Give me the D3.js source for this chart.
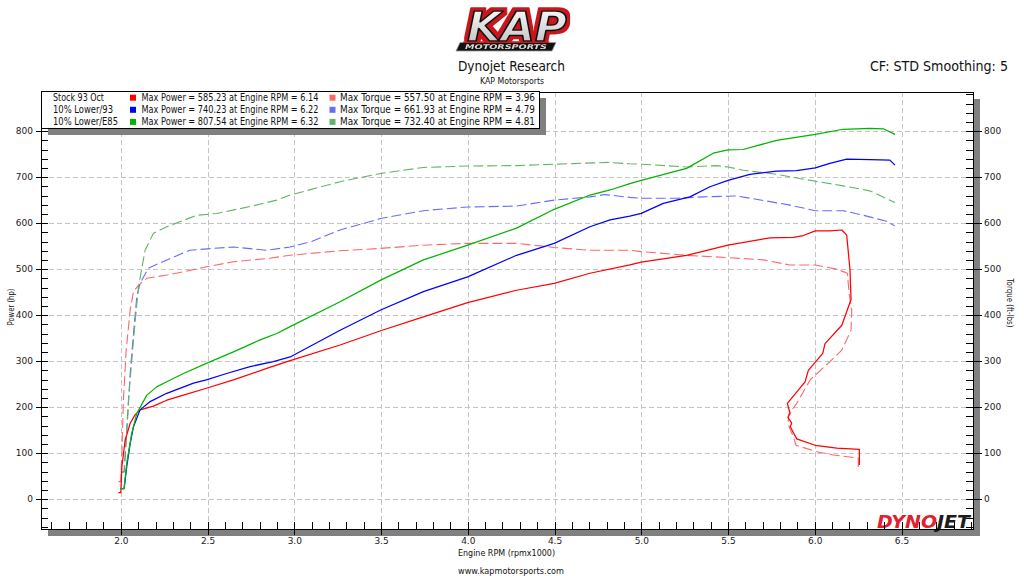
<!DOCTYPE html>
<meta charset="utf-8">
<head>
<style>
    body { margin: 0; background: #fff; }
    svg { display: block; font-family: "DejaVu Sans", sans-serif; }
    .grid line { stroke: #c4c4c4; stroke-dasharray: 5,3; shape-rendering: crispEdges; }
    .axis path { display: none; }
    .axis line { stroke: #000; shape-rendering: crispEdges; }
    .axis text { font-size: 9px; fill: #1a1a1a; font-family: "DejaVu Sans", sans-serif; }
    .lbl { fill: #111; }
</style>
</head>
<body>
<svg width="1024" height="576"></svg>
<script src="https://d3js.org/d3.v7.min.js"></script>
<script>

// ---- data (rpm x1000, hp / ft-lbs) ----
var runNames = ["Stock 93 Oct", "10% Lower/93", "10% Lower/E85"];
var maxPower = [585.23, 740.23, 807.54];
var maxPowerRpm = [6.14, 6.22, 6.32];
var maxTorque = [557.50, 661.93, 732.40];
var maxTorqueRpm = [3.96, 4.79, 4.81];

var stockPowerRpm = [1.986, 2.000, 2.006, 2.025, 2.054, 2.082, 2.111, 2.188, 2.265, 2.361, 2.493, 2.649, 2.841, 2.976, 3.264, 3.498, 3.744, 3.999, 4.281, 4.498, 4.704, 4.934, 5.000, 5.261, 5.500, 5.742, 5.877, 5.934, 6.003, 6.087, 6.156, 6.184, 6.203, 6.209, 6.156, 6.059, 6.046, 5.963, 5.944, 5.842, 5.858, 5.845, 5.867, 5.858, 5.896, 6.002, 6.127, 6.257, 6.257];
var stockPower = [14, 14, 70, 128, 165, 183, 194, 202, 215, 226, 241, 259, 284, 301, 335, 366, 396, 427, 454, 469, 491, 509, 515, 530, 552, 568, 569, 573, 583, 583, 585, 574, 498, 434, 378, 338, 317, 280, 255, 208, 186, 178, 165, 158, 131, 117, 111, 108, 74];

var lower93PowerRpm = [2.000, 2.019, 2.034, 2.054, 2.073, 2.111, 2.169, 2.265, 2.419, 2.493, 2.610, 2.745, 2.879, 2.976, 3.264, 3.498, 3.744, 3.999, 4.281, 4.498, 4.704, 4.820, 4.934, 5.000, 5.127, 5.280, 5.396, 5.500, 5.626, 5.780, 5.895, 6.003, 6.087, 6.184, 6.318, 6.433, 6.462];
var lower93Power = [23, 23, 70, 121, 157, 194, 212, 230, 252, 259, 273, 288, 299, 309, 367, 411, 451, 483, 530, 556, 592, 607, 615, 621, 643, 657, 679, 693, 706, 713, 714, 720, 730, 739, 738, 737, 726];

var e85PowerRpm = [2.000, 2.019, 2.034, 2.063, 2.092, 2.150, 2.207, 2.265, 2.361, 2.493, 2.649, 2.803, 2.899, 2.976, 3.264, 3.498, 3.744, 3.999, 4.281, 4.498, 4.704, 4.820, 4.934, 5.000, 5.261, 5.415, 5.500, 5.587, 5.780, 6.003, 6.164, 6.318, 6.395, 6.462];
var e85Power = [23, 23, 78, 143, 186, 226, 244, 255, 273, 295, 320, 346, 360, 375, 429, 476, 520, 552, 589, 630, 661, 672, 686, 693, 719, 752, 759, 760, 780, 793, 804, 806, 805, 793];

var stockTorqueRpm = [1.986, 2.000, 2.006, 2.015, 2.031, 2.054, 2.073, 2.102, 2.150, 2.265, 2.361, 2.493, 2.649, 2.841, 2.976, 3.264, 3.498, 3.744, 3.999, 4.281, 4.498, 4.704, 4.934, 5.000, 5.261, 5.500, 5.702, 5.857, 6.003, 6.126, 6.188, 6.198, 6.213, 6.209, 6.156, 6.088, 5.973, 5.896, 5.848, 5.848, 5.877, 5.892, 6.011, 6.107, 6.251, 6.251];
var stockTorque = [38, 38, 99, 215, 324, 411, 451, 465, 480, 487, 494, 505, 516, 523, 530, 540, 545, 552, 556, 556, 547, 541, 541, 538, 530, 525, 520, 509, 509, 500, 491, 447, 411, 367, 324, 299, 259, 208, 183, 161, 135, 117, 103, 96, 89, 70];

var lower93TorqueRpm = [2.000, 2.019, 2.034, 2.054, 2.073, 2.092, 2.111, 2.159, 2.265, 2.399, 2.534, 2.649, 2.841, 2.976, 3.100, 3.264, 3.498, 3.744, 3.999, 4.281, 4.498, 4.704, 4.790, 4.934, 5.000, 5.204, 5.357, 5.549, 5.722, 5.857, 6.003, 6.164, 6.280, 6.414, 6.462];
var lower93Torque = [59, 59, 143, 273, 360, 440, 469, 502, 520, 541, 545, 548, 541, 548, 560, 585, 610, 627, 635, 637, 650, 657, 662, 656, 654, 654, 657, 659, 648, 639, 627, 627, 617, 604, 594];

var e85TorqueRpm = [2.000, 2.019, 2.044, 2.073, 2.102, 2.140, 2.188, 2.265, 2.438, 2.553, 2.745, 2.899, 2.976, 3.264, 3.498, 3.744, 3.999, 4.281, 4.498, 4.810, 4.934, 5.000, 5.261, 5.434, 5.500, 5.587, 5.780, 6.003, 6.164, 6.318, 6.462];
var e85Torque = [59, 59, 215, 346, 462, 541, 578, 592, 617, 621, 636, 650, 661, 690, 708, 721, 724, 725, 728, 732, 729, 728, 722, 725, 722, 715, 706, 691, 681, 670, 645];

var xMajor = [2.0, 2.5, 3.0, 3.5, 4.0, 4.5, 5.0, 5.5, 6.0, 6.5];
var yMajor = [0, 100, 200, 300, 400, 500, 600, 700, 800];

var powerColors = ["#ff0000", "#0000ff", "#00b400"];
var torqueColors = ["#ff6868", "#6a6aff", "#62b462"];

// ---- layout ----
var svg = d3.select("svg");
var plot = { l: 41, r: 973, t: 92, b: 529 };
var x = d3.scaleLinear().domain([1.54, 6.912]).range([plot.l, plot.r]);
var y = d3.scaleLinear().domain([-65, 885]).range([plot.b, plot.t]);

var defs = svg.append("defs");

// plot shadow + background
svg.append("rect")
    .attr("x", plot.l + 7).attr("y", plot.t + 7)
    .attr("width", plot.r - plot.l).attr("height", plot.b - plot.t)
    .attr("fill", "#808080");
svg.append("rect")
    .attr("x", plot.l).attr("y", plot.t)
    .attr("width", plot.r - plot.l).attr("height", plot.b - plot.t)
    .attr("fill", "#fff");

defs.append("clipPath").attr("id", "clip")
    .append("rect")
    .attr("x", plot.l).attr("y", plot.t)
    .attr("width", plot.r - plot.l).attr("height", plot.b - plot.t);

// grid
var grid = svg.append("g").attr("class", "grid");
grid.selectAll(".gx").data(xMajor).enter().append("line")
    .attr("x1", function (d) { return Math.round(x(d)) + 0.5; })
    .attr("x2", function (d) { return Math.round(x(d)) + 0.5; })
    .attr("y1", plot.t).attr("y2", plot.b);
grid.selectAll(".gy").data(yMajor).enter().append("line")
    .attr("y1", function (d) { return Math.round(y(d)) + 0.5; })
    .attr("y2", function (d) { return Math.round(y(d)) + 0.5; })
    .attr("x1", plot.l).attr("x2", plot.r);

// DYNOJET mark, bottom right of the plot
var dj = svg.append("text")
    .attr("x", 877).attr("y", 528)
    .style("font-weight", "900").style("font-style", "italic")
    .style("font-size", "18px")
    .attr("textLength", 93).attr("lengthAdjust", "spacingAndGlyphs");
dj.append("tspan").attr("fill", "#e3212d").text("DYNO");
dj.append("tspan").attr("fill", "#1b1b1b").text("JET");

// curves
var line = d3.line()
    .x(function (d) { return x(d[0]); })
    .y(function (d) { return y(d[1]); });

var curves = [
    { rpm: stockTorqueRpm, val: stockTorque, color: torqueColors[0], dash: true },
    { rpm: lower93TorqueRpm, val: lower93Torque, color: torqueColors[1], dash: true },
    { rpm: e85TorqueRpm, val: e85Torque, color: torqueColors[2], dash: true },
    { rpm: stockPowerRpm, val: stockPower, color: powerColors[0], dash: false },
    { rpm: lower93PowerRpm, val: lower93Power, color: powerColors[1], dash: false },
    { rpm: e85PowerRpm, val: e85Power, color: powerColors[2], dash: false }
];

svg.append("g").attr("clip-path", "url(#clip)")
    .selectAll("path").data(curves).enter().append("path")
    .attr("d", function (c) { return line(d3.zip(c.rpm, c.val)); })
    .attr("fill", "none")
    .attr("stroke", function (c) { return c.color; })
    .attr("stroke-width", function (c) { return c.dash ? 1.1 : 1.25; })
    .attr("stroke-dasharray", function (c) { return c.dash ? "10,4" : null; })
    .attr("stroke-linejoin", "round");

// axes
var yMinor = d3.range(-60, 881, 20);
var xMinor = d3.range(16, 70).map(function (d) { return d / 10; });

svg.append("g").attr("class", "axis").attr("transform", "translate(" + plot.l + ",0)")
    .call(d3.axisRight(y).tickValues(yMinor).tickSize(7).tickFormat(""));
svg.append("g").attr("class", "axis").attr("transform", "translate(" + plot.l + ",0)")
    .call(d3.axisLeft(y).tickValues(yMajor).tickSize(5).tickPadding(3).tickFormat(d3.format("d")));

svg.append("g").attr("class", "axis").attr("transform", "translate(" + plot.r + ",0)")
    .call(d3.axisLeft(y).tickValues(yMinor).tickSize(7).tickFormat(""));
svg.append("g").attr("class", "axis").attr("transform", "translate(" + plot.r + ",0)")
    .call(d3.axisRight(y).tickValues(yMajor).tickSize(9).tickPadding(2).tickFormat(d3.format("d")));

svg.append("g").attr("class", "axis").attr("transform", "translate(0," + plot.b + ")")
    .call(d3.axisTop(x).tickValues(xMinor).tickSize(7).tickFormat(""));
svg.append("g").attr("class", "axis").attr("transform", "translate(0," + plot.b + ")")
    .call(d3.axisBottom(x).tickValues(xMajor).tickSize(6).tickPadding(3).tickFormat(d3.format(".1f")));

// plot frame
svg.append("rect")
    .attr("x", plot.l + 0.5).attr("y", plot.t + 0.5)
    .attr("width", plot.r - plot.l).attr("height", plot.b - plot.t)
    .attr("fill", "none").attr("stroke", "#000").attr("stroke-width", 1);

// legend
var leg = { x: 41, y: 91, w: 498, h: 37 };
svg.append("rect").attr("x", leg.x + 7).attr("y", leg.y + 7)
    .attr("width", leg.w).attr("height", leg.h).attr("fill", "#808080");
svg.append("rect").attr("x", leg.x + 0.5).attr("y", leg.y + 0.5)
    .attr("width", leg.w).attr("height", leg.h)
    .attr("fill", "#fff").attr("stroke", "#000");

var rowY = [97.7, 109.8, 121.9];
var nameLen = [51, 60, 65];
var rows = svg.append("g").style("font-size", "10px").attr("class", "lbl")
    .selectAll("g").data(runNames).enter().append("g");

rows.append("text")
    .attr("x", 53).attr("y", function (d, i) { return rowY[i]; })
    .attr("dominant-baseline", "central")
    .attr("textLength", function (d, i) { return nameLen[i]; })
    .attr("lengthAdjust", "spacingAndGlyphs")
    .text(function (d) { return d; });
rows.append("rect")
    .attr("x", 130).attr("y", function (d, i) { return rowY[i] - 3; })
    .attr("width", 6).attr("height", 6)
    .attr("fill", function (d, i) { return powerColors[i]; });
rows.append("text")
    .attr("x", 141.5).attr("y", function (d, i) { return rowY[i]; })
    .attr("dominant-baseline", "central")
    .attr("textLength", 177).attr("lengthAdjust", "spacingAndGlyphs")
    .text(function (d, i) { return "Max Power = " + maxPower[i].toFixed(2) + " at Engine RPM = " + maxPowerRpm[i].toFixed(2); });
rows.append("rect")
    .attr("x", 329.5).attr("y", function (d, i) { return rowY[i] - 3; })
    .attr("width", 6).attr("height", 6)
    .attr("fill", function (d, i) { return torqueColors[i]; });
rows.append("text")
    .attr("x", 340).attr("y", function (d, i) { return rowY[i]; })
    .attr("dominant-baseline", "central")
    .attr("textLength", 195).attr("lengthAdjust", "spacingAndGlyphs")
    .text(function (d, i) { return "Max Torque = " + maxTorque[i].toFixed(2) + " at Engine RPM = " + maxTorqueRpm[i].toFixed(2); });

// titles and axis names
function label(txt, px, py, size, len, anchor, rot) {
    var t = svg.append("text").attr("class", "lbl")
        .attr("dominant-baseline", "central")
        .attr("text-anchor", anchor || "start")
        .style("font-size", size + "px")
        .attr("textLength", len).attr("lengthAdjust", "spacingAndGlyphs")
        .text(txt);
    if (rot) t.attr("transform", "translate(" + px + "," + py + ") rotate(" + rot + ")");
    else t.attr("x", px).attr("y", py);
    return t;
}
label("Dynojet Research", 511.5, 66, 14, 107, "middle");
label("KAP Motorsports", 512, 80.5, 9.5, 64, "middle");
label("CF: STD Smoothing: 5", 870, 66, 14, 138, "start");
label("Engine RPM (rpmx1000)", 506.5, 552.5, 9.5, 97, "middle");
label("www.kapmotorsports.com", 511, 570, 9.5, 106, "middle");
label("Power (hp)", 10, 307, 9.5, 37, "middle", -90);
label("Torque (ft-lbs)", 1010, 303, 9.5, 49, "middle", 90);

// KAP Motorsports logo: one text element; red halo only above the bar
var grad = defs.append("linearGradient").attr("id", "kapGrad")
    .attr("x1", 0).attr("y1", 0).attr("x2", 0).attr("y2", 1);
grad.append("stop").attr("offset", "0%").attr("stop-color", "#ffffff");
grad.append("stop").attr("offset", "100%").attr("stop-color", "#b8b8b8");

var glow = defs.append("filter").attr("id", "kapGlow")
    .attr("filterUnits", "userSpaceOnUse").attr("primitiveUnits", "userSpaceOnUse")
    .attr("x", 440).attr("y", 0).attr("width", 150).attr("height", 60);
glow.append("feMorphology").attr("in", "SourceAlpha").attr("operator", "dilate")
    .attr("radius", 2.5).attr("result", "fat");
glow.append("feFlood").attr("flood-color", "#c8161d")
    .attr("x", 440).attr("y", 0).attr("width", 150).attr("height", 42.5).attr("result", "flood");
glow.append("feComposite").attr("in", "flood").attr("in2", "fat").attr("operator", "in").attr("result", "red");
var merge = glow.append("feMerge");
merge.append("feMergeNode").attr("in", "red");
merge.append("feMergeNode").attr("in", "SourceGraphic");

var logo = svg.append("g")
    .style("font-weight", "bold").style("font-style", "italic");
logo.append("polygon")
    .attr("points", "460,42.5 556,42.5 552,51 456,51")
    .attr("fill", "#111").attr("stroke", "#9a9a9a").attr("stroke-width", 0.8);
var kap = logo.append("text").attr("filter", "url(#kapGlow)").attr("text-anchor", "middle");
kap.append("tspan")
    .attr("x", 517).attr("y", 41)
    .style("font-size", "40px")
    .attr("textLength", 100).attr("lengthAdjust", "spacingAndGlyphs")
    .attr("fill", "url(#kapGrad)").attr("stroke", "#111").attr("stroke-width", 1.6)
    .attr("stroke-linejoin", "round")
    .text("KAP");
kap.append("tspan")
    .attr("x", 506).attr("y", 49.3)
    .style("font-size", "6.5px").attr("fill", "#d8d8d8").attr("stroke", "none")
    .attr("textLength", 82).attr("lengthAdjust", "spacingAndGlyphs")
    .text("MOTORSPORTS");

</script>
</body>
